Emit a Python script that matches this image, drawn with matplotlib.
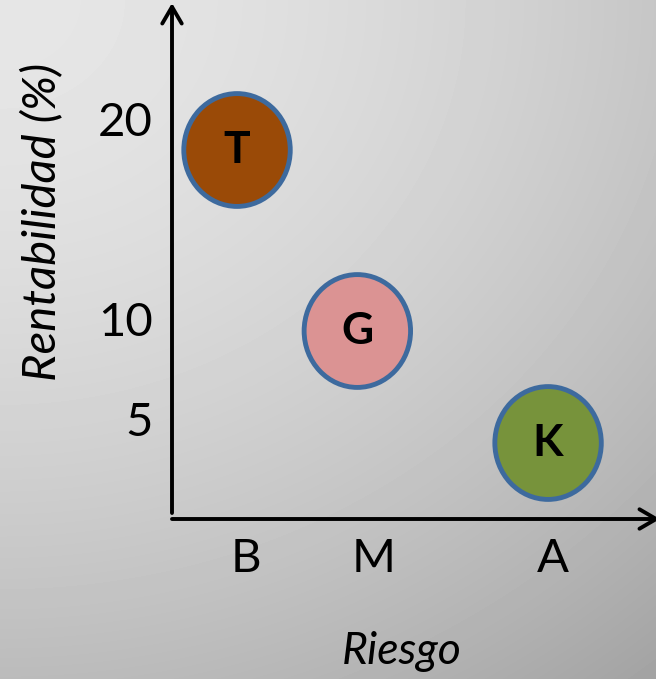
# -*- coding: utf-8 -*-

import numpy as np
import matplotlib
matplotlib.use('Agg')
import matplotlib.pyplot as plt
from matplotlib.path import Path
from matplotlib.transforms import Affine2D

plt.rcParams['font.family'] = ['Lato', 'DejaVu Sans']

# Data
risk_labels = ['B', 'M', 'A']
risk_pos = [1.0, 2.0, 3.4]
return_ticks = [5, 10, 20]

fund_names = ['T', 'G', 'K']
fund_risk = [0.93, 1.87, 3.36]
fund_return = [18.45, 9.4, 3.8]
fund_colors = ['#9a4a07', '#db9393', '#77933b']

EDGE_COLOR = '#3d6a9e'
W, H = 656, 679

#-----------------------------------------------------
# figure + gray gradient background

fig = plt.figure(figsize=(W / 100, H / 100), dpi=100)

bg = fig.add_axes([0, 0, 1, 1], zorder=-1)
yy, xx = np.mgrid[0:H, 0:W] / float(W)
d = np.sqrt(xx ** 2 + (1.15 * yy) ** 2)
shade = (230 - 32 * d ** 1.7) / 255.0
bg.imshow(shade, cmap='gray', vmin=0, vmax=1, aspect='auto', interpolation='bilinear')
bg.axis('off')

#-----------------------------------------------------
# main axes

ax = fig.add_axes([172 / W, (H - 519) / H, 484 / W, 511 / H])
ax.set_facecolor('none')
x0 = 0.422
x1 = x0 + 488 / 128.0
ax.set_xlim(x0, x0 + 484 / 128.0)
ax.set_ylim(0, 25.55)
for s in ax.spines.values():
    s.set_visible(False)

# axes drawn as open arrows
arrow = dict(arrowstyle='->,head_length=0.6,head_width=0.35', lw=2.8, color='black',
             shrinkA=0, shrinkB=0, mutation_scale=20)
ax.annotate('', xy=(x0, 25.8), xytext=(x0, 0.3), arrowprops=arrow, annotation_clip=False)
ax.annotate('', xy=(x1, 0), xytext=(x0, 0), arrowprops=arrow, annotation_clip=False)

ax.set_xticks(risk_pos, risk_labels, fontsize=34)
ax.set_yticks(return_ticks, [str(v) for v in return_ticks], fontsize=34)
ax.tick_params(axis='x', length=0, pad=14)
ax.tick_params(axis='y', length=0, pad=14)

ax.set_xlabel('Riesgo', fontsize=32, style='italic', va='center')
ax.xaxis.set_label_coords(0.475, -0.26)
ax.set_ylabel('Rentabilidad (%)', fontsize=34, style='italic', va='center')
ax.yaxis.set_label_coords(-0.269, 0.581)

# slightly tall circles
oval = Path.unit_circle().transformed(Affine2D().scale(1.0, 1.06))
ax.scatter(fund_risk, fund_return, s=6600, marker=oval, c=fund_colors,
           edgecolors=EDGE_COLOR, linewidths=3.5, zorder=3, clip_on=False)
for name, xr, yr in zip(fund_names, fund_risk, fund_return):
    ax.text(xr, yr, name, ha='center', va='center', fontsize=32, fontweight='bold', zorder=4)

fig.savefig('out.png', dpi=100)
